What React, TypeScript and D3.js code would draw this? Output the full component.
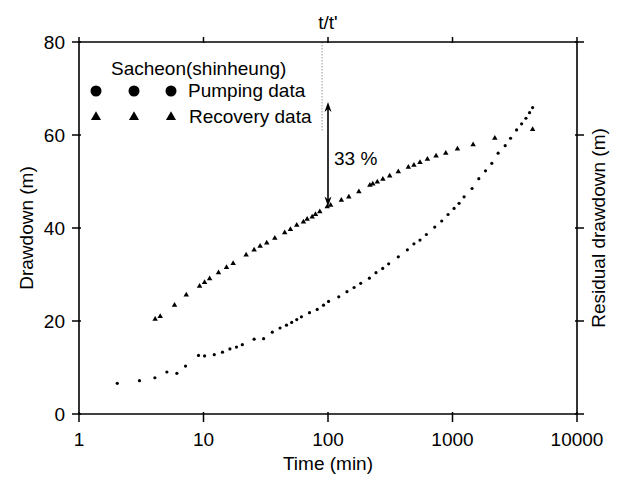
import React from "react";
import * as d3 from "d3";

// ---- data ----
const pumpTime = [2.03, 3.06, 4.07, 5.08, 6.11, 7.17, 9.12, 10.2, 12.2, 14.2, 16.3, 18.4, 20.5, 25.5, 30.4, 35.7, 41.2, 46.4, 51.1, 56.1, 61.2, 71, 81.9, 92, 101, 122, 142, 162, 183, 215, 243, 275, 307, 367, 434, 490, 548, 617, 720, 819, 921, 1029, 1129, 1239, 1436, 1626, 1841, 2069, 2326, 2650, 2926, 3271, 3590, 3890, 4160, 4400];
const pumpDrawdown = [6.6, 7.16, 7.8, 9.03, 8.75, 10.3, 12.6, 12.5, 12.75, 13.3, 14.0, 14.4, 14.9, 16.1, 16.2, 17.6, 18.5, 19.1, 19.7, 20.3, 20.9, 21.8, 22.5, 23.4, 24.2, 25.2, 26.3, 27.2, 28.1, 29.2, 30.4, 31.3, 32.3, 33.8, 35.3, 36.6, 37.4, 38.6, 40.2, 41.5, 42.9, 44.2, 45.3, 46.7, 48.5, 50.6, 52.3, 53.9, 56.1, 57.7, 59.3, 61.1, 62.4, 63.6, 64.8, 65.9];

const recTime = [4.09, 4.49, 5.85, 7.27, 9.3, 10.2, 11.2, 13.2, 15.3, 17.3, 22.0, 25.5, 28.5, 32.2, 37.4, 44.9, 49.9, 56.1, 63.5, 68, 74.6, 79.3, 85.9, 98.6, 105, 128, 147, 177, 217, 229, 249, 276, 313, 367, 442, 490, 548, 629, 738, 883, 1096, 1464, 2188, 4400];
const recDrawdown = [20.4, 21.0, 23.4, 25.6, 27.5, 28.3, 29.1, 30.4, 31.5, 32.4, 34.2, 35.3, 36.1, 36.8, 37.8, 39.0, 39.7, 40.6, 41.3, 41.9, 42.4, 42.9, 43.5, 44.6, 44.9, 46.0, 46.7, 47.8, 49.2, 49.5, 49.9, 50.5, 51.2, 52.1, 53.1, 53.5, 54.1, 54.8, 55.5, 56.1, 57.0, 57.9, 59.3, 61.2];

const xTicks = [1, 10, 100, 1000, 10000];
const xTickLabels = ["1", "10", "100", "1000", "10000"];
const yTicks = [0, 20, 40, 60, 80];
const yTickLabels = ["0", "20", "40", "60", "80"];

const refLineTime = 89.6;
const refLineRange = [61, 80];
const arrowTime = 100;
const arrowRange = [44.6, 67.1];
const arrowLabel = "33 %";

const legendTitle = "Sacheon(shinheung)";
const legendLabels = ["Pumping data", "Recovery data"];

const FONT = "'Liberation Sans', Arial, Helvetica, sans-serif";

export default function App() {
  const W = 621, H = 477;
  const left = 79, right = 577, top = 42, bottom = 414;
  const x = d3.scaleLog().domain([1, 10000]).range([left, right]);
  const y = d3.scaleLinear().domain([0, 80]).range([bottom, top]);

  const triSmall = d3.symbol(d3.symbolTriangle, 13)()!;
  const triBig = d3.symbol(d3.symbolTriangle, 44)()!;

  const ax = x(arrowTime);
  const ay1 = y(arrowRange[1]);
  const ay0 = y(arrowRange[0]);
  const ah = 10, aw = 3.5;

  const fs = 19;
  return (
    <svg width={W} height={H} style={{ position: "absolute", left: 0, top: 0, background: "#fff" }} fontFamily={FONT}>
      <rect x={0} y={0} width={W} height={H} fill="#fff" />
      {/* reference dotted line */}
      <line x1={x(refLineTime)} x2={x(refLineTime)} y1={y(refLineRange[1])} y2={y(refLineRange[0])} stroke="#999" strokeWidth={1} strokeDasharray="1.5,1.5" />
      {/* frame */}
      <g stroke="#000" strokeWidth={1.6} fill="none">
        <line x1={left} x2={right} y1={bottom} y2={bottom} />
        <line x1={left} x2={right} y1={top} y2={top} />
        <line x1={left} x2={left} y1={top} y2={bottom} />
        <line x1={right} x2={right} y1={top} y2={bottom} />
      </g>
      {/* x ticks */}
      {xTicks.map((t, i) => (
        <g key={"xt" + i}>
          <line x1={x(t)} x2={x(t)} y1={bottom - 2} y2={bottom + 8} stroke="#000" strokeWidth={1.5} />
          <line x1={x(t)} x2={x(t)} y1={top - 5} y2={top + 1} stroke="#000" strokeWidth={1.5} />
          <text x={x(t)} y={446} textAnchor="middle" fontSize={fs} fill="#000">{xTickLabels[i]}</text>
        </g>
      ))}
      {/* y ticks */}
      {yTicks.map((v, i) => (
        <g key={"yt" + i}>
          <line x1={left - 7} x2={left + 2} y1={y(v)} y2={y(v)} stroke="#000" strokeWidth={1.5} />
          <line x1={right - 2} x2={right + 7} y1={y(v)} y2={y(v)} stroke="#000" strokeWidth={1.5} />
          <text x={65} y={y(v)} dy="0.35em" textAnchor="end" fontSize={fs} fill="#000">{yTickLabels[i]}</text>
        </g>
      ))}
      {/* axis titles */}
      <text x={328} y={29} textAnchor="middle" fontSize={fs} fill="#000">t/t'</text>
      <text x={328} y={470} textAnchor="middle" fontSize={fs} fill="#000">Time (min)</text>
      <text transform={`translate(26,${(top + bottom) / 2}) rotate(-90)`} textAnchor="middle" dy="0.35em" fontSize={fs} fill="#000">Drawdown (m)</text>
      <text transform={`translate(598,${(top + bottom) / 2}) rotate(-90)`} textAnchor="middle" dy="0.35em" fontSize={fs} fill="#000">Residual drawdown (m)</text>
      {/* data */}
      {pumpTime.map((t, i) => (
        <circle key={"p" + i} cx={x(t)} cy={y(pumpDrawdown[i])} r={1.6} fill="#000" />
      ))}
      {recTime.map((t, i) => (
        <path key={"r" + i} d={triSmall} transform={`translate(${x(t)},${y(recDrawdown[i])})`} fill="#000" />
      ))}
      {/* arrow */}
      <line x1={ax} x2={ax} y1={ay1 + 4} y2={ay0 - 4} stroke="#000" strokeWidth={1.6} />
      <path d={`M${ax},${ay1} L${ax - aw},${ay1 + ah} L${ax},${ay1 + ah - 3} L${ax + aw},${ay1 + ah} Z`} fill="#000" />
      <path d={`M${ax},${ay0} L${ax - aw},${ay0 - ah} L${ax},${ay0 - ah + 3} L${ax + aw},${ay0 - ah} Z`} fill="#000" />
      <text x={334} y={165} fontSize={fs} fill="#000">{arrowLabel}</text>
      {/* legend */}
      <text x={111} y={75} fontSize={fs} fill="#000">{legendTitle}</text>
      {[96, 134, 171].map((lx, i) => (
        <circle key={"lc" + i} cx={lx} cy={91} r={5.5} fill="#000" />
      ))}
      <text x={188} y={97} fontSize={fs} fill="#000">{legendLabels[0]}</text>
      {[96, 134, 171].map((lx, i) => (
        <path key={"lt" + i} d={triBig} transform={`translate(${lx},${117})`} fill="#000" />
      ))}
      <text x={189} y={123} fontSize={fs} fill="#000">{legendLabels[1]}</text>
    </svg>
  );
}
